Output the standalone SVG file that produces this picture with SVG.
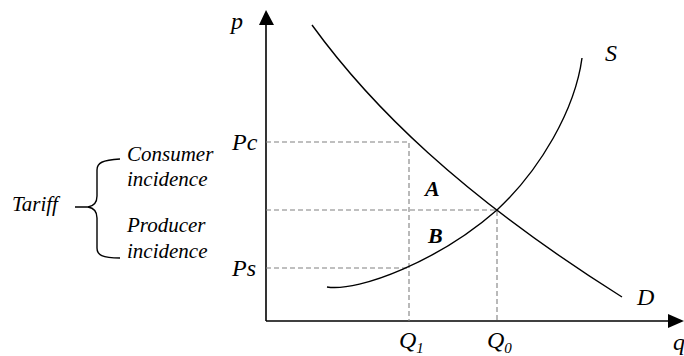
<svg xmlns="http://www.w3.org/2000/svg" width="684" height="356" viewBox="0 0 684 356">
<style>
text{font-family:'Liberation Serif','Times New Roman',serif;font-style:italic;fill:#000}
.lab{font-size:21px}
.ax{font-size:24px}
.bold{font-weight:bold;font-size:22px}
.sub{font-size:15px}
.curve{fill:none;stroke:#000;stroke-width:1.4}
.dash{fill:none;stroke:#808080;stroke-width:1.1;stroke-dasharray:5,3}
.axis{fill:none;stroke:#000;stroke-width:1.6}
</style>
<rect width="684" height="356" fill="#fff"/>
<g id="axes">
<line class="axis" x1="266" y1="321" x2="266" y2="24"/>
<polygon points="266,10 259,25 274,25" fill="#000"/>
<line class="axis" x1="266" y1="321" x2="668" y2="321"/>
<polygon points="684,321 668,314 668,328" fill="#000"/>
<text class="ax" x="231" y="29">p</text>
<text class="ax" x="673" y="350">q</text>
</g>
<g id="guides">
<polyline class="dash" points="266,142 409,142 409,321"/>
<polyline class="dash" points="266,210 497,210 497,321"/>
<line class="dash" x1="266" y1="268" x2="409" y2="268"/>
</g>
<g id="demand">
<path class="curve" d="M312,25 C370,105 460,195 622,297"/>
<text class="ax" x="637" y="305">D</text>
</g>
<g id="supply">
<path class="curve" d="M327,287 C360,292 440,260 497,210 C540,170 575,110 582,58"/>
<text class="ax" x="605" y="61">S</text>
</g>
<g id="labels">
<text class="ax" x="232" y="150">Pc</text>
<text class="ax" x="232" y="276">Ps</text>
<text class="ax" x="399" y="348">Q<tspan class="sub" dy="5">1</tspan></text>
<text class="ax" x="487" y="348">Q<tspan class="sub" dy="5">0</tspan></text>
<text class="bold" x="425" y="196">A</text>
<text class="bold" x="428" y="243">B</text>
</g>
<g id="tariff">
<text class="lab" x="12" y="211">Tariff</text>
<path class="curve" d="M75,207 L88,207 C94,206 97,202 97,196 L97,170 C97,163 102,160 120,159"/>
<path class="curve" d="M88,207 C94,208 97,212 97,218 L97,248 C97,255 102,258 120,258"/>
<text class="lab" x="127" y="161">Consumer</text>
<text class="lab" x="127" y="186">incidence</text>
<text class="lab" x="127" y="232">Producer</text>
<text class="lab" x="127" y="258">incidence</text>
</g>
</svg>
